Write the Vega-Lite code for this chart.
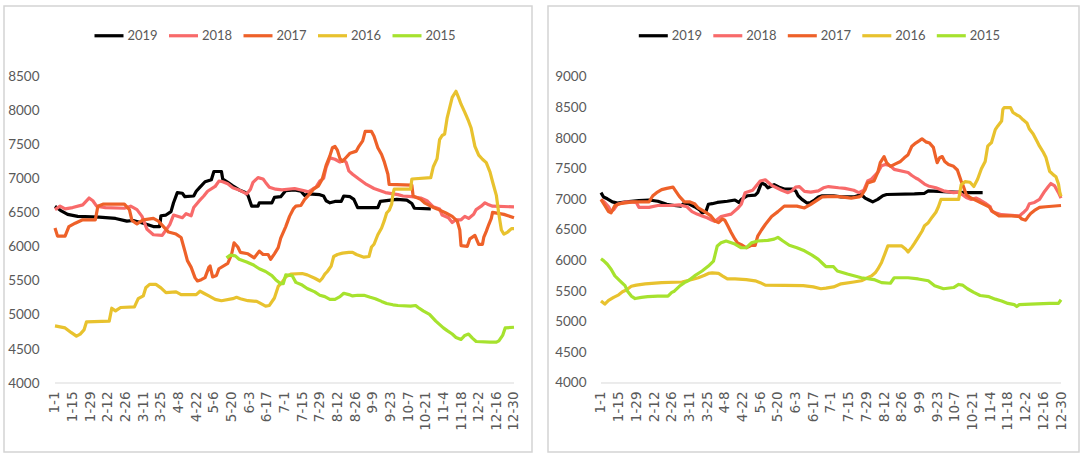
{
"$schema":"https://vega.github.io/schema/vega-lite/v6.json",
"padding":{"left":3,"top":5,"right":2,"bottom":3},
"background":"white",
"spacing":14,
"config":{"view":{"stroke":"#d4d4d4","strokeWidth":1.5},"font":"Lato","axisX":{"labelOverlap":false,"labelBound":false}},
"resolve":{"scale":{"x":"independent","y":"independent","color":"independent","strokeWidth":"independent"},"legend":{"color":"independent"}},
"datasets":{
"left":[
{"series":"2019","date":"2016-01-01","value":6600},{"series":"2019","date":"2016-01-06","value":6530},{"series":"2019","date":"2016-01-11","value":6480},{"series":"2019","date":"2016-01-19","value":6450},{"series":"2019","date":"2016-02-05","value":6440},{"series":"2019","date":"2016-02-18","value":6420},{"series":"2019","date":"2016-02-27","value":6380},{"series":"2019","date":"2016-03-03","value":6390},{"series":"2019","date":"2016-03-11","value":6350},{"series":"2019","date":"2016-03-19","value":6300},{"series":"2019","date":"2016-03-24","value":6300},{"series":"2019","date":"2016-03-25","value":6460},{"series":"2019","date":"2016-03-29","value":6470},{"series":"2019","date":"2016-04-02","value":6520},{"series":"2019","date":"2016-04-04","value":6650},{"series":"2019","date":"2016-04-07","value":6800},{"series":"2019","date":"2016-04-11","value":6790},{"series":"2019","date":"2016-04-13","value":6740},{"series":"2019","date":"2016-04-20","value":6750},{"series":"2019","date":"2016-04-22","value":6820},{"series":"2019","date":"2016-04-25","value":6880},{"series":"2019","date":"2016-04-29","value":6960},{"series":"2019","date":"2016-05-04","value":6990},{"series":"2019","date":"2016-05-06","value":7110},{"series":"2019","date":"2016-05-12","value":7110},{"series":"2019","date":"2016-05-13","value":7000},{"series":"2019","date":"2016-05-17","value":6950},{"series":"2019","date":"2016-05-21","value":6900},{"series":"2019","date":"2016-05-27","value":6830},{"series":"2019","date":"2016-05-31","value":6800},{"series":"2019","date":"2016-06-02","value":6760},{"series":"2019","date":"2016-06-05","value":6600},{"series":"2019","date":"2016-06-10","value":6600},{"series":"2019","date":"2016-06-11","value":6650},{"series":"2019","date":"2016-06-21","value":6650},{"series":"2019","date":"2016-06-23","value":6730},{"series":"2019","date":"2016-06-28","value":6740},{"series":"2019","date":"2016-07-02","value":6830},{"series":"2019","date":"2016-07-09","value":6840},{"series":"2019","date":"2016-07-14","value":6820},{"series":"2019","date":"2016-07-17","value":6760},{"series":"2019","date":"2016-07-20","value":6780},{"series":"2019","date":"2016-07-29","value":6770},{"series":"2019","date":"2016-08-01","value":6750},{"series":"2019","date":"2016-08-03","value":6680},{"series":"2019","date":"2016-08-06","value":6650},{"series":"2019","date":"2016-08-10","value":6670},{"series":"2019","date":"2016-08-15","value":6670},{"series":"2019","date":"2016-08-17","value":6750},{"series":"2019","date":"2016-08-22","value":6740},{"series":"2019","date":"2016-08-25","value":6700},{"series":"2019","date":"2016-08-28","value":6580},{"series":"2019","date":"2016-09-13","value":6580},{"series":"2019","date":"2016-09-15","value":6670},{"series":"2019","date":"2016-09-28","value":6700},{"series":"2019","date":"2016-10-06","value":6690},{"series":"2019","date":"2016-10-10","value":6640},{"series":"2019","date":"2016-10-12","value":6570},{"series":"2019","date":"2016-10-25","value":6560},
{"series":"2018","date":"2016-01-01","value":6550},{"series":"2018","date":"2016-01-05","value":6600},{"series":"2018","date":"2016-01-09","value":6560},{"series":"2018","date":"2016-01-15","value":6580},{"series":"2018","date":"2016-01-23","value":6620},{"series":"2018","date":"2016-01-28","value":6720},{"series":"2018","date":"2016-01-31","value":6680},{"series":"2018","date":"2016-02-03","value":6600},{"series":"2018","date":"2016-02-10","value":6580},{"series":"2018","date":"2016-02-25","value":6570},{"series":"2018","date":"2016-03-01","value":6600},{"series":"2018","date":"2016-03-06","value":6550},{"series":"2018","date":"2016-03-10","value":6450},{"series":"2018","date":"2016-03-14","value":6260},{"series":"2018","date":"2016-03-19","value":6180},{"series":"2018","date":"2016-03-26","value":6170},{"series":"2018","date":"2016-03-29","value":6250},{"series":"2018","date":"2016-04-01","value":6330},{"series":"2018","date":"2016-04-04","value":6470},{"series":"2018","date":"2016-04-11","value":6430},{"series":"2018","date":"2016-04-14","value":6490},{"series":"2018","date":"2016-04-18","value":6460},{"series":"2018","date":"2016-04-20","value":6580},{"series":"2018","date":"2016-04-24","value":6670},{"series":"2018","date":"2016-04-28","value":6750},{"series":"2018","date":"2016-05-01","value":6820},{"series":"2018","date":"2016-05-07","value":6890},{"series":"2018","date":"2016-05-10","value":6970},{"series":"2018","date":"2016-05-13","value":6960},{"series":"2018","date":"2016-05-17","value":6930},{"series":"2018","date":"2016-05-21","value":6870},{"series":"2018","date":"2016-05-27","value":6830},{"series":"2018","date":"2016-06-01","value":6780},{"series":"2018","date":"2016-06-04","value":6850},{"series":"2018","date":"2016-06-06","value":6950},{"series":"2018","date":"2016-06-10","value":7020},{"series":"2018","date":"2016-06-14","value":7000},{"series":"2018","date":"2016-06-16","value":6950},{"series":"2018","date":"2016-06-19","value":6880},{"series":"2018","date":"2016-06-24","value":6850},{"series":"2018","date":"2016-06-29","value":6840},{"series":"2018","date":"2016-07-09","value":6860},{"series":"2018","date":"2016-07-16","value":6830},{"series":"2018","date":"2016-07-20","value":6810},{"series":"2018","date":"2016-07-24","value":6860},{"series":"2018","date":"2016-07-26","value":6880},{"series":"2018","date":"2016-07-29","value":6970},{"series":"2018","date":"2016-08-01","value":7010},{"series":"2018","date":"2016-08-03","value":7170},{"series":"2018","date":"2016-08-06","value":7310},{"series":"2018","date":"2016-08-10","value":7290},{"series":"2018","date":"2016-08-14","value":7250},{"series":"2018","date":"2016-08-17","value":7280},{"series":"2018","date":"2016-08-19","value":7240},{"series":"2018","date":"2016-08-21","value":7120},{"series":"2018","date":"2016-08-24","value":7070},{"series":"2018","date":"2016-08-29","value":7000},{"series":"2018","date":"2016-09-04","value":6920},{"series":"2018","date":"2016-09-10","value":6860},{"series":"2018","date":"2016-09-19","value":6800},{"series":"2018","date":"2016-09-29","value":6770},{"series":"2018","date":"2016-10-03","value":6750},{"series":"2018","date":"2016-10-10","value":6740},{"series":"2018","date":"2016-10-17","value":6720},{"series":"2018","date":"2016-10-22","value":6680},{"series":"2018","date":"2016-10-27","value":6590},{"series":"2018","date":"2016-11-01","value":6560},{"series":"2018","date":"2016-11-03","value":6470},{"series":"2018","date":"2016-11-08","value":6430},{"series":"2018","date":"2016-11-11","value":6360},{"series":"2018","date":"2016-11-14","value":6400},{"series":"2018","date":"2016-11-18","value":6400},{"series":"2018","date":"2016-11-21","value":6450},{"series":"2018","date":"2016-11-24","value":6420},{"series":"2018","date":"2016-11-28","value":6480},{"series":"2018","date":"2016-11-30","value":6550},{"series":"2018","date":"2016-12-04","value":6600},{"series":"2018","date":"2016-12-07","value":6650},{"series":"2018","date":"2016-12-10","value":6620},{"series":"2018","date":"2016-12-13","value":6600},{"series":"2018","date":"2016-12-30","value":6590},
{"series":"2017","date":"2016-01-01","value":6280},{"series":"2017","date":"2016-01-03","value":6160},{"series":"2017","date":"2016-01-09","value":6160},{"series":"2017","date":"2016-01-12","value":6300},{"series":"2017","date":"2016-01-17","value":6350},{"series":"2017","date":"2016-01-23","value":6400},{"series":"2017","date":"2016-02-02","value":6400},{"series":"2017","date":"2016-02-04","value":6600},{"series":"2017","date":"2016-02-08","value":6630},{"series":"2017","date":"2016-02-25","value":6630},{"series":"2017","date":"2016-02-29","value":6550},{"series":"2017","date":"2016-03-02","value":6390},{"series":"2017","date":"2016-03-06","value":6340},{"series":"2017","date":"2016-03-11","value":6400},{"series":"2017","date":"2016-03-19","value":6420},{"series":"2017","date":"2016-03-23","value":6380},{"series":"2017","date":"2016-03-27","value":6300},{"series":"2017","date":"2016-03-31","value":6220},{"series":"2017","date":"2016-04-06","value":6190},{"series":"2017","date":"2016-04-10","value":6140},{"series":"2017","date":"2016-04-13","value":5940},{"series":"2017","date":"2016-04-15","value":5800},{"series":"2017","date":"2016-04-18","value":5700},{"series":"2017","date":"2016-04-21","value":5550},{"series":"2017","date":"2016-04-23","value":5500},{"series":"2017","date":"2016-04-26","value":5520},{"series":"2017","date":"2016-04-29","value":5550},{"series":"2017","date":"2016-05-02","value":5700},{"series":"2017","date":"2016-05-03","value":5720},{"series":"2017","date":"2016-05-05","value":5560},{"series":"2017","date":"2016-05-08","value":5580},{"series":"2017","date":"2016-05-10","value":5680},{"series":"2017","date":"2016-05-17","value":5760},{"series":"2017","date":"2016-05-20","value":5890},{"series":"2017","date":"2016-05-22","value":6060},{"series":"2017","date":"2016-05-25","value":6000},{"series":"2017","date":"2016-05-27","value":5920},{"series":"2017","date":"2016-06-02","value":5900},{"series":"2017","date":"2016-06-07","value":5840},{"series":"2017","date":"2016-06-11","value":5940},{"series":"2017","date":"2016-06-14","value":5890},{"series":"2017","date":"2016-06-18","value":5890},{"series":"2017","date":"2016-06-20","value":5820},{"series":"2017","date":"2016-06-23","value":5900},{"series":"2017","date":"2016-06-26","value":5990},{"series":"2017","date":"2016-06-28","value":6130},{"series":"2017","date":"2016-07-02","value":6300},{"series":"2017","date":"2016-07-05","value":6450},{"series":"2017","date":"2016-07-08","value":6560},{"series":"2017","date":"2016-07-10","value":6600},{"series":"2017","date":"2016-07-14","value":6610},{"series":"2017","date":"2016-07-17","value":6700},{"series":"2017","date":"2016-07-20","value":6760},{"series":"2017","date":"2016-07-24","value":6850},{"series":"2017","date":"2016-07-28","value":6900},{"series":"2017","date":"2016-07-31","value":7000},{"series":"2017","date":"2016-08-03","value":7200},{"series":"2017","date":"2016-08-06","value":7340},{"series":"2017","date":"2016-08-08","value":7460},{"series":"2017","date":"2016-08-10","value":7480},{"series":"2017","date":"2016-08-12","value":7420},{"series":"2017","date":"2016-08-14","value":7300},{"series":"2017","date":"2016-08-16","value":7260},{"series":"2017","date":"2016-08-19","value":7320},{"series":"2017","date":"2016-08-22","value":7380},{"series":"2017","date":"2016-08-27","value":7410},{"series":"2017","date":"2016-08-29","value":7480},{"series":"2017","date":"2016-09-01","value":7560},{"series":"2017","date":"2016-09-03","value":7700},{"series":"2017","date":"2016-09-08","value":7700},{"series":"2017","date":"2016-09-10","value":7630},{"series":"2017","date":"2016-09-13","value":7460},{"series":"2017","date":"2016-09-16","value":7360},{"series":"2017","date":"2016-09-18","value":7260},{"series":"2017","date":"2016-09-21","value":7070},{"series":"2017","date":"2016-09-22","value":6920},{"series":"2017","date":"2016-10-10","value":6910},{"series":"2017","date":"2016-10-11","value":6750},{"series":"2017","date":"2016-10-17","value":6700},{"series":"2017","date":"2016-10-20","value":6650},{"series":"2017","date":"2016-10-25","value":6600},{"series":"2017","date":"2016-10-30","value":6560},{"series":"2017","date":"2016-11-06","value":6500},{"series":"2017","date":"2016-11-11","value":6450},{"series":"2017","date":"2016-11-15","value":6380},{"series":"2017","date":"2016-11-17","value":6250},{"series":"2017","date":"2016-11-18","value":6020},{"series":"2017","date":"2016-11-23","value":6010},{"series":"2017","date":"2016-11-25","value":6120},{"series":"2017","date":"2016-11-29","value":6170},{"series":"2017","date":"2016-12-02","value":6040},{"series":"2017","date":"2016-12-05","value":6040},{"series":"2017","date":"2016-12-06","value":6140},{"series":"2017","date":"2016-12-08","value":6230},{"series":"2017","date":"2016-12-10","value":6330},{"series":"2017","date":"2016-12-12","value":6420},{"series":"2017","date":"2016-12-13","value":6510},{"series":"2017","date":"2016-12-22","value":6480},{"series":"2017","date":"2016-12-30","value":6430},
{"series":"2016","date":"2016-01-01","value":4840},{"series":"2016","date":"2016-01-09","value":4810},{"series":"2016","date":"2016-01-14","value":4740},{"series":"2016","date":"2016-01-18","value":4690},{"series":"2016","date":"2016-01-21","value":4720},{"series":"2016","date":"2016-01-24","value":4780},{"series":"2016","date":"2016-01-26","value":4900},{"series":"2016","date":"2016-02-13","value":4910},{"series":"2016","date":"2016-02-15","value":5100},{"series":"2016","date":"2016-02-18","value":5060},{"series":"2016","date":"2016-02-22","value":5110},{"series":"2016","date":"2016-03-04","value":5120},{"series":"2016","date":"2016-03-07","value":5240},{"series":"2016","date":"2016-03-11","value":5280},{"series":"2016","date":"2016-03-13","value":5400},{"series":"2016","date":"2016-03-16","value":5450},{"series":"2016","date":"2016-03-21","value":5450},{"series":"2016","date":"2016-03-25","value":5400},{"series":"2016","date":"2016-03-29","value":5330},{"series":"2016","date":"2016-04-06","value":5340},{"series":"2016","date":"2016-04-10","value":5300},{"series":"2016","date":"2016-04-22","value":5300},{"series":"2016","date":"2016-04-25","value":5350},{"series":"2016","date":"2016-04-28","value":5320},{"series":"2016","date":"2016-05-02","value":5280},{"series":"2016","date":"2016-05-07","value":5230},{"series":"2016","date":"2016-05-12","value":5210},{"series":"2016","date":"2016-05-21","value":5240},{"series":"2016","date":"2016-05-24","value":5260},{"series":"2016","date":"2016-05-27","value":5240},{"series":"2016","date":"2016-06-02","value":5210},{"series":"2016","date":"2016-06-09","value":5200},{"series":"2016","date":"2016-06-12","value":5170},{"series":"2016","date":"2016-06-16","value":5130},{"series":"2016","date":"2016-06-19","value":5140},{"series":"2016","date":"2016-06-23","value":5250},{"series":"2016","date":"2016-06-26","value":5420},{"series":"2016","date":"2016-06-29","value":5480},{"series":"2016","date":"2016-07-02","value":5560},{"series":"2016","date":"2016-07-06","value":5600},{"series":"2016","date":"2016-07-15","value":5610},{"series":"2016","date":"2016-07-19","value":5590},{"series":"2016","date":"2016-07-25","value":5540},{"series":"2016","date":"2016-07-29","value":5500},{"series":"2016","date":"2016-07-31","value":5540},{"series":"2016","date":"2016-08-02","value":5600},{"series":"2016","date":"2016-08-04","value":5640},{"series":"2016","date":"2016-08-07","value":5720},{"series":"2016","date":"2016-08-09","value":5860},{"series":"2016","date":"2016-08-12","value":5890},{"series":"2016","date":"2016-08-16","value":5910},{"series":"2016","date":"2016-08-21","value":5920},{"series":"2016","date":"2016-08-24","value":5920},{"series":"2016","date":"2016-08-27","value":5890},{"series":"2016","date":"2016-09-02","value":5850},{"series":"2016","date":"2016-09-06","value":5860},{"series":"2016","date":"2016-09-08","value":6000},{"series":"2016","date":"2016-09-10","value":6040},{"series":"2016","date":"2016-09-13","value":6180},{"series":"2016","date":"2016-09-16","value":6280},{"series":"2016","date":"2016-09-18","value":6380},{"series":"2016","date":"2016-09-20","value":6500},{"series":"2016","date":"2016-09-22","value":6540},{"series":"2016","date":"2016-09-24","value":6630},{"series":"2016","date":"2016-09-25","value":6780},{"series":"2016","date":"2016-09-26","value":6850},{"series":"2016","date":"2016-10-09","value":6850},{"series":"2016","date":"2016-10-10","value":7000},{"series":"2016","date":"2016-10-25","value":7020},{"series":"2016","date":"2016-10-27","value":7180},{"series":"2016","date":"2016-10-30","value":7300},{"series":"2016","date":"2016-11-01","value":7580},{"series":"2016","date":"2016-11-03","value":7640},{"series":"2016","date":"2016-11-05","value":7660},{"series":"2016","date":"2016-11-07","value":7900},{"series":"2016","date":"2016-11-09","value":8050},{"series":"2016","date":"2016-11-11","value":8200},{"series":"2016","date":"2016-11-14","value":8290},{"series":"2016","date":"2016-11-16","value":8200},{"series":"2016","date":"2016-11-18","value":8100},{"series":"2016","date":"2016-11-21","value":7980},{"series":"2016","date":"2016-11-24","value":7850},{"series":"2016","date":"2016-11-26","value":7750},{"series":"2016","date":"2016-11-29","value":7480},{"series":"2016","date":"2016-12-02","value":7350},{"series":"2016","date":"2016-12-05","value":7290},{"series":"2016","date":"2016-12-08","value":7240},{"series":"2016","date":"2016-12-11","value":7100},{"series":"2016","date":"2016-12-13","value":6960},{"series":"2016","date":"2016-12-16","value":6760},{"series":"2016","date":"2016-12-18","value":6480},{"series":"2016","date":"2016-12-20","value":6250},{"series":"2016","date":"2016-12-22","value":6190},{"series":"2016","date":"2016-12-25","value":6220},{"series":"2016","date":"2016-12-28","value":6270},{"series":"2016","date":"2016-12-30","value":6270},
{"series":"2015","date":"2016-05-16","value":5840},{"series":"2015","date":"2016-05-19","value":5880},{"series":"2015","date":"2016-05-23","value":5870},{"series":"2015","date":"2016-05-26","value":5820},{"series":"2015","date":"2016-06-01","value":5780},{"series":"2015","date":"2016-06-06","value":5740},{"series":"2015","date":"2016-06-11","value":5680},{"series":"2015","date":"2016-06-16","value":5640},{"series":"2015","date":"2016-06-21","value":5580},{"series":"2015","date":"2016-06-24","value":5520},{"series":"2015","date":"2016-06-28","value":5460},{"series":"2015","date":"2016-06-30","value":5460},{"series":"2015","date":"2016-07-02","value":5590},{"series":"2015","date":"2016-07-07","value":5580},{"series":"2015","date":"2016-07-10","value":5480},{"series":"2015","date":"2016-07-15","value":5440},{"series":"2015","date":"2016-07-19","value":5390},{"series":"2015","date":"2016-07-25","value":5340},{"series":"2015","date":"2016-07-29","value":5290},{"series":"2015","date":"2016-08-02","value":5270},{"series":"2015","date":"2016-08-06","value":5230},{"series":"2015","date":"2016-08-10","value":5230},{"series":"2015","date":"2016-08-14","value":5270},{"series":"2015","date":"2016-08-17","value":5320},{"series":"2015","date":"2016-08-21","value":5300},{"series":"2015","date":"2016-08-24","value":5280},{"series":"2015","date":"2016-08-28","value":5290},{"series":"2015","date":"2016-09-02","value":5290},{"series":"2015","date":"2016-09-07","value":5260},{"series":"2015","date":"2016-09-11","value":5240},{"series":"2015","date":"2016-09-16","value":5200},{"series":"2015","date":"2016-09-20","value":5170},{"series":"2015","date":"2016-09-25","value":5150},{"series":"2015","date":"2016-09-29","value":5140},{"series":"2015","date":"2016-10-09","value":5130},{"series":"2015","date":"2016-10-13","value":5140},{"series":"2015","date":"2016-10-15","value":5110},{"series":"2015","date":"2016-10-19","value":5060},{"series":"2015","date":"2016-10-24","value":5010},{"series":"2015","date":"2016-10-29","value":4910},{"series":"2015","date":"2016-11-04","value":4810},{"series":"2015","date":"2016-11-07","value":4770},{"series":"2015","date":"2016-11-11","value":4720},{"series":"2015","date":"2016-11-14","value":4670},{"series":"2015","date":"2016-11-18","value":4640},{"series":"2015","date":"2016-11-21","value":4700},{"series":"2015","date":"2016-11-24","value":4720},{"series":"2015","date":"2016-11-27","value":4660},{"series":"2015","date":"2016-11-30","value":4610},{"series":"2015","date":"2016-12-11","value":4600},{"series":"2015","date":"2016-12-16","value":4600},{"series":"2015","date":"2016-12-18","value":4620},{"series":"2015","date":"2016-12-21","value":4700},{"series":"2015","date":"2016-12-23","value":4810},{"series":"2015","date":"2016-12-30","value":4820}
],
"right":[
{"series":"2019","date":"2016-01-01","value":7110},{"series":"2019","date":"2016-01-03","value":7040},{"series":"2019","date":"2016-01-06","value":7010},{"series":"2019","date":"2016-01-10","value":6960},{"series":"2019","date":"2016-01-14","value":6940},{"series":"2019","date":"2016-01-21","value":6960},{"series":"2019","date":"2016-01-31","value":6980},{"series":"2019","date":"2016-02-08","value":6990},{"series":"2019","date":"2016-02-15","value":6970},{"series":"2019","date":"2016-02-22","value":6920},{"series":"2019","date":"2016-02-28","value":6900},{"series":"2019","date":"2016-03-04","value":6890},{"series":"2019","date":"2016-03-07","value":6940},{"series":"2019","date":"2016-03-10","value":6930},{"series":"2019","date":"2016-03-15","value":6880},{"series":"2019","date":"2016-03-19","value":6830},{"series":"2019","date":"2016-03-21","value":6780},{"series":"2019","date":"2016-03-24","value":6800},{"series":"2019","date":"2016-03-26","value":6920},{"series":"2019","date":"2016-03-29","value":6930},{"series":"2019","date":"2016-04-02","value":6950},{"series":"2019","date":"2016-04-10","value":6970},{"series":"2019","date":"2016-04-16","value":6990},{"series":"2019","date":"2016-04-19","value":6950},{"series":"2019","date":"2016-04-21","value":7000},{"series":"2019","date":"2016-04-26","value":7060},{"series":"2019","date":"2016-05-02","value":7070},{"series":"2019","date":"2016-05-04","value":7110},{"series":"2019","date":"2016-05-07","value":7270},{"series":"2019","date":"2016-05-10","value":7240},{"series":"2019","date":"2016-05-12","value":7190},{"series":"2019","date":"2016-05-17","value":7240},{"series":"2019","date":"2016-05-21","value":7200},{"series":"2019","date":"2016-05-25","value":7170},{"series":"2019","date":"2016-05-31","value":7170},{"series":"2019","date":"2016-06-03","value":7140},{"series":"2019","date":"2016-06-05","value":7060},{"series":"2019","date":"2016-06-08","value":7000},{"series":"2019","date":"2016-06-12","value":6940},{"series":"2019","date":"2016-06-15","value":6950},{"series":"2019","date":"2016-06-18","value":6990},{"series":"2019","date":"2016-06-21","value":7040},{"series":"2019","date":"2016-06-24","value":7060},{"series":"2019","date":"2016-07-03","value":7060},{"series":"2019","date":"2016-07-09","value":7040},{"series":"2019","date":"2016-07-19","value":7040},{"series":"2019","date":"2016-07-25","value":7080},{"series":"2019","date":"2016-07-28","value":7020},{"series":"2019","date":"2016-07-31","value":6990},{"series":"2019","date":"2016-08-03","value":6960},{"series":"2019","date":"2016-08-07","value":7000},{"series":"2019","date":"2016-08-11","value":7060},{"series":"2019","date":"2016-08-14","value":7080},{"series":"2019","date":"2016-09-05","value":7090},{"series":"2019","date":"2016-09-13","value":7100},{"series":"2019","date":"2016-09-16","value":7140},{"series":"2019","date":"2016-09-24","value":7130},{"series":"2019","date":"2016-10-06","value":7120},{"series":"2019","date":"2016-10-17","value":7110},{"series":"2019","date":"2016-10-29","value":7110},
{"series":"2018","date":"2016-01-01","value":7000},{"series":"2018","date":"2016-01-04","value":6950},{"series":"2018","date":"2016-01-07","value":6880},{"series":"2018","date":"2016-01-09","value":6800},{"series":"2018","date":"2016-01-11","value":6830},{"series":"2018","date":"2016-01-14","value":6920},{"series":"2018","date":"2016-01-21","value":6960},{"series":"2018","date":"2016-01-29","value":6950},{"series":"2018","date":"2016-01-31","value":6870},{"series":"2018","date":"2016-02-08","value":6870},{"series":"2018","date":"2016-02-15","value":6900},{"series":"2018","date":"2016-02-25","value":6900},{"series":"2018","date":"2016-03-03","value":6910},{"series":"2018","date":"2016-03-09","value":6880},{"series":"2018","date":"2016-03-13","value":6800},{"series":"2018","date":"2016-03-17","value":6760},{"series":"2018","date":"2016-03-21","value":6730},{"series":"2018","date":"2016-03-25","value":6700},{"series":"2018","date":"2016-03-29","value":6660},{"series":"2018","date":"2016-03-31","value":6640},{"series":"2018","date":"2016-04-05","value":6720},{"series":"2018","date":"2016-04-13","value":6760},{"series":"2018","date":"2016-04-18","value":6850},{"series":"2018","date":"2016-04-21","value":6920},{"series":"2018","date":"2016-04-24","value":7110},{"series":"2018","date":"2016-04-30","value":7150},{"series":"2018","date":"2016-05-06","value":7300},{"series":"2018","date":"2016-05-10","value":7320},{"series":"2018","date":"2016-05-15","value":7230},{"series":"2018","date":"2016-05-23","value":7150},{"series":"2018","date":"2016-05-28","value":7110},{"series":"2018","date":"2016-05-31","value":7140},{"series":"2018","date":"2016-06-03","value":7200},{"series":"2018","date":"2016-06-06","value":7210},{"series":"2018","date":"2016-06-10","value":7130},{"series":"2018","date":"2016-06-15","value":7120},{"series":"2018","date":"2016-06-21","value":7140},{"series":"2018","date":"2016-06-25","value":7190},{"series":"2018","date":"2016-06-29","value":7210},{"series":"2018","date":"2016-07-07","value":7190},{"series":"2018","date":"2016-07-12","value":7180},{"series":"2018","date":"2016-07-19","value":7150},{"series":"2018","date":"2016-07-23","value":7110},{"series":"2018","date":"2016-07-27","value":7150},{"series":"2018","date":"2016-07-30","value":7300},{"series":"2018","date":"2016-08-02","value":7330},{"series":"2018","date":"2016-08-07","value":7440},{"series":"2018","date":"2016-08-10","value":7550},{"series":"2018","date":"2016-08-13","value":7570},{"series":"2018","date":"2016-08-17","value":7550},{"series":"2018","date":"2016-08-20","value":7490},{"series":"2018","date":"2016-08-31","value":7440},{"series":"2018","date":"2016-09-03","value":7390},{"series":"2018","date":"2016-09-06","value":7350},{"series":"2018","date":"2016-09-08","value":7330},{"series":"2018","date":"2016-09-13","value":7250},{"series":"2018","date":"2016-09-16","value":7220},{"series":"2018","date":"2016-09-22","value":7190},{"series":"2018","date":"2016-09-28","value":7140},{"series":"2018","date":"2016-10-06","value":7110},{"series":"2018","date":"2016-10-10","value":7120},{"series":"2018","date":"2016-10-16","value":7030},{"series":"2018","date":"2016-10-20","value":7000},{"series":"2018","date":"2016-10-24","value":7020},{"series":"2018","date":"2016-10-27","value":6990},{"series":"2018","date":"2016-10-31","value":6940},{"series":"2018","date":"2016-11-04","value":6880},{"series":"2018","date":"2016-11-05","value":6810},{"series":"2018","date":"2016-11-08","value":6780},{"series":"2018","date":"2016-11-13","value":6750},{"series":"2018","date":"2016-11-21","value":6740},{"series":"2018","date":"2016-11-27","value":6730},{"series":"2018","date":"2016-11-30","value":6780},{"series":"2018","date":"2016-12-03","value":6840},{"series":"2018","date":"2016-12-05","value":6930},{"series":"2018","date":"2016-12-09","value":6950},{"series":"2018","date":"2016-12-13","value":7000},{"series":"2018","date":"2016-12-17","value":7130},{"series":"2018","date":"2016-12-20","value":7210},{"series":"2018","date":"2016-12-22","value":7260},{"series":"2018","date":"2016-12-25","value":7220},{"series":"2018","date":"2016-12-28","value":7110},{"series":"2018","date":"2016-12-30","value":7020},
{"series":"2017","date":"2016-01-01","value":7000},{"series":"2017","date":"2016-01-04","value":6900},{"series":"2017","date":"2016-01-07","value":6800},{"series":"2017","date":"2016-01-09","value":6780},{"series":"2017","date":"2016-01-12","value":6900},{"series":"2017","date":"2016-01-16","value":6930},{"series":"2017","date":"2016-01-26","value":6960},{"series":"2017","date":"2016-02-08","value":6960},{"series":"2017","date":"2016-02-11","value":7060},{"series":"2017","date":"2016-02-14","value":7110},{"series":"2017","date":"2016-02-18","value":7160},{"series":"2017","date":"2016-02-22","value":7180},{"series":"2017","date":"2016-02-27","value":7200},{"series":"2017","date":"2016-02-29","value":7140},{"series":"2017","date":"2016-03-03","value":7050},{"series":"2017","date":"2016-03-07","value":6960},{"series":"2017","date":"2016-03-11","value":6960},{"series":"2017","date":"2016-03-15","value":6930},{"series":"2017","date":"2016-03-18","value":6860},{"series":"2017","date":"2016-03-23","value":6800},{"series":"2017","date":"2016-03-28","value":6730},{"series":"2017","date":"2016-03-31","value":6650},{"series":"2017","date":"2016-04-03","value":6620},{"series":"2017","date":"2016-04-06","value":6680},{"series":"2017","date":"2016-04-08","value":6660},{"series":"2017","date":"2016-04-10","value":6580},{"series":"2017","date":"2016-04-13","value":6460},{"series":"2017","date":"2016-04-16","value":6350},{"series":"2017","date":"2016-04-18","value":6290},{"series":"2017","date":"2016-04-21","value":6260},{"series":"2017","date":"2016-04-25","value":6210},{"series":"2017","date":"2016-04-29","value":6250},{"series":"2017","date":"2016-05-02","value":6250},{"series":"2017","date":"2016-05-04","value":6400},{"series":"2017","date":"2016-05-07","value":6500},{"series":"2017","date":"2016-05-10","value":6590},{"series":"2017","date":"2016-05-15","value":6720},{"series":"2017","date":"2016-05-20","value":6800},{"series":"2017","date":"2016-05-25","value":6890},{"series":"2017","date":"2016-06-04","value":6890},{"series":"2017","date":"2016-06-10","value":6860},{"series":"2017","date":"2016-06-15","value":6920},{"series":"2017","date":"2016-06-21","value":7000},{"series":"2017","date":"2016-06-24","value":7040},{"series":"2017","date":"2016-07-03","value":7050},{"series":"2017","date":"2016-07-09","value":7040},{"series":"2017","date":"2016-07-17","value":7020},{"series":"2017","date":"2016-07-23","value":7040},{"series":"2017","date":"2016-07-25","value":7060},{"series":"2017","date":"2016-07-28","value":7160},{"series":"2017","date":"2016-07-30","value":7270},{"series":"2017","date":"2016-08-04","value":7300},{"series":"2017","date":"2016-08-07","value":7440},{"series":"2017","date":"2016-08-09","value":7600},{"series":"2017","date":"2016-08-12","value":7700},{"series":"2017","date":"2016-08-14","value":7600},{"series":"2017","date":"2016-08-17","value":7540},{"series":"2017","date":"2016-08-21","value":7580},{"series":"2017","date":"2016-08-25","value":7620},{"series":"2017","date":"2016-08-28","value":7680},{"series":"2017","date":"2016-08-31","value":7730},{"series":"2017","date":"2016-09-03","value":7870},{"series":"2017","date":"2016-09-06","value":7920},{"series":"2017","date":"2016-09-09","value":7960},{"series":"2017","date":"2016-09-11","value":7990},{"series":"2017","date":"2016-09-14","value":7940},{"series":"2017","date":"2016-09-17","value":7920},{"series":"2017","date":"2016-09-20","value":7850},{"series":"2017","date":"2016-09-22","value":7680},{"series":"2017","date":"2016-09-23","value":7600},{"series":"2017","date":"2016-09-25","value":7680},{"series":"2017","date":"2016-09-27","value":7700},{"series":"2017","date":"2016-09-29","value":7620},{"series":"2017","date":"2016-10-02","value":7570},{"series":"2017","date":"2016-10-06","value":7540},{"series":"2017","date":"2016-10-09","value":7480},{"series":"2017","date":"2016-10-12","value":7300},{"series":"2017","date":"2016-10-14","value":7200},{"series":"2017","date":"2016-10-16","value":7080},{"series":"2017","date":"2016-10-19","value":7030},{"series":"2017","date":"2016-10-22","value":7000},{"series":"2017","date":"2016-10-26","value":6960},{"series":"2017","date":"2016-10-30","value":6920},{"series":"2017","date":"2016-11-03","value":6880},{"series":"2017","date":"2016-11-06","value":6800},{"series":"2017","date":"2016-11-09","value":6760},{"series":"2017","date":"2016-11-11","value":6730},{"series":"2017","date":"2016-11-21","value":6730},{"series":"2017","date":"2016-11-27","value":6720},{"series":"2017","date":"2016-11-29","value":6680},{"series":"2017","date":"2016-12-02","value":6660},{"series":"2017","date":"2016-12-04","value":6720},{"series":"2017","date":"2016-12-06","value":6770},{"series":"2017","date":"2016-12-09","value":6820},{"series":"2017","date":"2016-12-13","value":6870},{"series":"2017","date":"2016-12-18","value":6880},{"series":"2017","date":"2016-12-30","value":6900},
{"series":"2016","date":"2016-01-01","value":5340},{"series":"2016","date":"2016-01-04","value":5290},{"series":"2016","date":"2016-01-07","value":5350},{"series":"2016","date":"2016-01-11","value":5400},{"series":"2016","date":"2016-01-15","value":5440},{"series":"2016","date":"2016-01-18","value":5490},{"series":"2016","date":"2016-01-21","value":5520},{"series":"2016","date":"2016-01-25","value":5580},{"series":"2016","date":"2016-01-29","value":5600},{"series":"2016","date":"2016-02-05","value":5620},{"series":"2016","date":"2016-02-18","value":5640},{"series":"2016","date":"2016-03-05","value":5650},{"series":"2016","date":"2016-03-13","value":5690},{"series":"2016","date":"2016-03-18","value":5720},{"series":"2016","date":"2016-03-23","value":5760},{"series":"2016","date":"2016-03-26","value":5790},{"series":"2016","date":"2016-03-29","value":5800},{"series":"2016","date":"2016-04-03","value":5790},{"series":"2016","date":"2016-04-06","value":5750},{"series":"2016","date":"2016-04-10","value":5700},{"series":"2016","date":"2016-04-16","value":5700},{"series":"2016","date":"2016-04-25","value":5690},{"series":"2016","date":"2016-05-02","value":5670},{"series":"2016","date":"2016-05-06","value":5640},{"series":"2016","date":"2016-05-10","value":5600},{"series":"2016","date":"2016-06-09","value":5590},{"series":"2016","date":"2016-06-17","value":5570},{"series":"2016","date":"2016-06-23","value":5540},{"series":"2016","date":"2016-06-27","value":5550},{"series":"2016","date":"2016-07-03","value":5570},{"series":"2016","date":"2016-07-09","value":5620},{"series":"2016","date":"2016-07-19","value":5650},{"series":"2016","date":"2016-07-25","value":5670},{"series":"2016","date":"2016-07-30","value":5720},{"series":"2016","date":"2016-08-02","value":5750},{"series":"2016","date":"2016-08-05","value":5800},{"series":"2016","date":"2016-08-07","value":5860},{"series":"2016","date":"2016-08-10","value":5970},{"series":"2016","date":"2016-08-13","value":6130},{"series":"2016","date":"2016-08-15","value":6240},{"series":"2016","date":"2016-08-26","value":6240},{"series":"2016","date":"2016-08-29","value":6190},{"series":"2016","date":"2016-08-31","value":6140},{"series":"2016","date":"2016-09-03","value":6220},{"series":"2016","date":"2016-09-05","value":6280},{"series":"2016","date":"2016-09-08","value":6380},{"series":"2016","date":"2016-09-11","value":6480},{"series":"2016","date":"2016-09-13","value":6570},{"series":"2016","date":"2016-09-16","value":6620},{"series":"2016","date":"2016-09-19","value":6710},{"series":"2016","date":"2016-09-22","value":6790},{"series":"2016","date":"2016-09-24","value":6880},{"series":"2016","date":"2016-09-26","value":7000},{"series":"2016","date":"2016-10-10","value":7000},{"series":"2016","date":"2016-10-12","value":7240},{"series":"2016","date":"2016-10-15","value":7290},{"series":"2016","date":"2016-10-19","value":7280},{"series":"2016","date":"2016-10-22","value":7210},{"series":"2016","date":"2016-10-25","value":7330},{"series":"2016","date":"2016-10-28","value":7500},{"series":"2016","date":"2016-10-31","value":7620},{"series":"2016","date":"2016-11-02","value":7870},{"series":"2016","date":"2016-11-05","value":7930},{"series":"2016","date":"2016-11-08","value":8140},{"series":"2016","date":"2016-11-10","value":8200},{"series":"2016","date":"2016-11-13","value":8280},{"series":"2016","date":"2016-11-14","value":8470},{"series":"2016","date":"2016-11-15","value":8500},{"series":"2016","date":"2016-11-20","value":8500},{"series":"2016","date":"2016-11-22","value":8420},{"series":"2016","date":"2016-11-25","value":8380},{"series":"2016","date":"2016-11-27","value":8360},{"series":"2016","date":"2016-11-30","value":8300},{"series":"2016","date":"2016-12-03","value":8250},{"series":"2016","date":"2016-12-05","value":8150},{"series":"2016","date":"2016-12-08","value":8070},{"series":"2016","date":"2016-12-11","value":7950},{"series":"2016","date":"2016-12-13","value":7870},{"series":"2016","date":"2016-12-16","value":7770},{"series":"2016","date":"2016-12-18","value":7690},{"series":"2016","date":"2016-12-21","value":7460},{"series":"2016","date":"2016-12-24","value":7400},{"series":"2016","date":"2016-12-26","value":7370},{"series":"2016","date":"2016-12-28","value":7250},{"series":"2016","date":"2016-12-29","value":7120},{"series":"2016","date":"2016-12-30","value":7050},
{"series":"2015","date":"2016-01-01","value":6030},{"series":"2015","date":"2016-01-03","value":6000},{"series":"2015","date":"2016-01-06","value":5940},{"series":"2015","date":"2016-01-09","value":5860},{"series":"2015","date":"2016-01-12","value":5750},{"series":"2015","date":"2016-01-16","value":5670},{"series":"2015","date":"2016-01-20","value":5590},{"series":"2015","date":"2016-01-22","value":5500},{"series":"2015","date":"2016-01-25","value":5420},{"series":"2015","date":"2016-01-28","value":5380},{"series":"2015","date":"2016-02-02","value":5400},{"series":"2015","date":"2016-02-07","value":5410},{"series":"2015","date":"2016-02-15","value":5420},{"series":"2015","date":"2016-02-23","value":5420},{"series":"2015","date":"2016-02-26","value":5480},{"series":"2015","date":"2016-02-28","value":5500},{"series":"2015","date":"2016-03-03","value":5580},{"series":"2015","date":"2016-03-07","value":5640},{"series":"2015","date":"2016-03-10","value":5670},{"series":"2015","date":"2016-03-15","value":5750},{"series":"2015","date":"2016-03-21","value":5830},{"series":"2015","date":"2016-03-26","value":5910},{"series":"2015","date":"2016-03-30","value":5990},{"series":"2015","date":"2016-03-31","value":6075},{"series":"2015","date":"2016-04-02","value":6240},{"series":"2015","date":"2016-04-05","value":6290},{"series":"2015","date":"2016-04-09","value":6320},{"series":"2015","date":"2016-04-16","value":6270},{"series":"2015","date":"2016-04-21","value":6210},{"series":"2015","date":"2016-04-25","value":6210},{"series":"2015","date":"2016-04-29","value":6290},{"series":"2015","date":"2016-05-04","value":6320},{"series":"2015","date":"2016-05-12","value":6330},{"series":"2015","date":"2016-05-17","value":6350},{"series":"2015","date":"2016-05-20","value":6380},{"series":"2015","date":"2016-05-24","value":6320},{"series":"2015","date":"2016-05-29","value":6250},{"series":"2015","date":"2016-06-04","value":6210},{"series":"2015","date":"2016-06-10","value":6160},{"series":"2015","date":"2016-06-16","value":6090},{"series":"2015","date":"2016-06-21","value":6020},{"series":"2015","date":"2016-06-25","value":5940},{"series":"2015","date":"2016-06-27","value":5900},{"series":"2015","date":"2016-07-03","value":5900},{"series":"2015","date":"2016-07-06","value":5830},{"series":"2015","date":"2016-07-14","value":5780},{"series":"2015","date":"2016-07-25","value":5720},{"series":"2015","date":"2016-08-04","value":5690},{"series":"2015","date":"2016-08-10","value":5640},{"series":"2015","date":"2016-08-17","value":5630},{"series":"2015","date":"2016-08-20","value":5720},{"series":"2015","date":"2016-08-31","value":5720},{"series":"2015","date":"2016-09-08","value":5700},{"series":"2015","date":"2016-09-16","value":5670},{"series":"2015","date":"2016-09-21","value":5590},{"series":"2015","date":"2016-09-28","value":5540},{"series":"2015","date":"2016-10-06","value":5560},{"series":"2015","date":"2016-10-10","value":5610},{"series":"2015","date":"2016-10-13","value":5600},{"series":"2015","date":"2016-10-17","value":5540},{"series":"2015","date":"2016-10-22","value":5480},{"series":"2015","date":"2016-10-27","value":5430},{"series":"2015","date":"2016-11-03","value":5410},{"series":"2015","date":"2016-11-08","value":5370},{"series":"2015","date":"2016-11-13","value":5340},{"series":"2015","date":"2016-11-18","value":5300},{"series":"2015","date":"2016-11-23","value":5280},{"series":"2015","date":"2016-11-25","value":5250},{"series":"2015","date":"2016-11-27","value":5280},{"series":"2015","date":"2016-12-06","value":5290},{"series":"2015","date":"2016-12-21","value":5300},{"series":"2015","date":"2016-12-28","value":5300},{"series":"2015","date":"2016-12-30","value":5360}
]},
"hconcat":[
{"width":528,"height":446,"data":{"name":"left"},
"layer":[
{"data":{"values":[{}]},"mark":{"type":"rule","color":"#d9d9d9","strokeWidth":1},
"encoding":{"x":{"datum":{"year":2016,"month":1,"date":1,"utc":true},"type":"temporal"},"x2":{"datum":{"year":2016,"month":12,"date":30,"utc":true}},"y":{"datum":4000,"type":"quantitative"}}},
{"mark":{"type":"line","strokeJoin":"round"},
"encoding":{
"x":{"field":"date","type":"temporal","scale":{"type":"utc","nice":false,"domain":[{"year":2015,"month":11,"date":21,"hours":13,"minutes":20,"utc":true},{"year":2017,"month":1,"date":13,"hours":6,"minutes":36,"utc":true}]},
"axis":{"title":null,"format":"%-m-%-d","labelAngle":270,"labelPadding":8,"offset":-69,"labelFont":"DejaVu Sans","labelFontSize":13.5,"labelColor":"#595959","domain":false,"ticks":false,"tickSize":0,"grid":false,"labelOverlap":false,"labelBound":false,"labelFlush":false,"tickCount":40,
"values":[{"year":2016,"month":1,"date":1,"utc":true},{"year":2016,"month":1,"date":15,"utc":true},{"year":2016,"month":1,"date":29,"utc":true},{"year":2016,"month":2,"date":12,"utc":true},{"year":2016,"month":2,"date":26,"utc":true},{"year":2016,"month":3,"date":11,"utc":true},{"year":2016,"month":3,"date":25,"utc":true},{"year":2016,"month":4,"date":8,"utc":true},{"year":2016,"month":4,"date":22,"utc":true},{"year":2016,"month":5,"date":6,"utc":true},{"year":2016,"month":5,"date":20,"utc":true},{"year":2016,"month":6,"date":3,"utc":true},{"year":2016,"month":6,"date":17,"utc":true},{"year":2016,"month":7,"date":1,"utc":true},{"year":2016,"month":7,"date":15,"utc":true},{"year":2016,"month":7,"date":29,"utc":true},{"year":2016,"month":8,"date":12,"utc":true},{"year":2016,"month":8,"date":26,"utc":true},{"year":2016,"month":9,"date":9,"utc":true},{"year":2016,"month":9,"date":23,"utc":true},{"year":2016,"month":10,"date":7,"utc":true},{"year":2016,"month":10,"date":21,"utc":true},{"year":2016,"month":11,"date":4,"utc":true},{"year":2016,"month":11,"date":18,"utc":true},{"year":2016,"month":12,"date":2,"utc":true},{"year":2016,"month":12,"date":16,"utc":true},{"year":2016,"month":12,"date":30,"utc":true}]}},
"y":{"field":"value","type":"quantitative","scale":{"domain":[2985.3,9544.1],"nice":false,"zero":false},
"axis":{"title":null,"values":[4000,4500,5000,5500,6000,6500,7000,7500,8000,8500],"tickCount":20,"format":"d","offset":-40,"labelPadding":5,"domain":false,"ticks":false,"tickSize":0,"grid":false,"labelFontSize":13.5,"labelColor":"#595959","labelFlush":false}},
"color":{"field":"series","type":"nominal","scale":{"domain":["2019","2018","2017","2016","2015"],"range":["#000000","#f86a6a","#ee6129","#e8c22e","#a6e22e"]},
"legend":{"orient":"none","legendX":88.5,"legendY":13,"direction":"horizontal","title":null,"symbolType":"stroke","symbolSize":841,"symbolStrokeWidth":3,"labelFontSize":13,"labelColor":"#595959","labelOffset":2,"columnPadding":3.5,"padding":0,"labelLimit":0}},
"strokeWidth":{"field":"series","type":"nominal","scale":{"domain":["2019","2018","2017","2016","2015"],"range":[3.2,3.2,2.2,2.2,2.2]},"legend":null}
}}
]},
{"width":531,"height":446,"data":{"name":"right"},
"layer":[
{"data":{"values":[{}]},"mark":{"type":"rule","color":"#d9d9d9","strokeWidth":1},
"encoding":{"x":{"datum":{"year":2016,"month":1,"date":1,"utc":true},"type":"temporal"},"x2":{"datum":{"year":2016,"month":12,"date":30,"utc":true}},"y":{"datum":4000,"type":"quantitative"}}},
{"mark":{"type":"line","strokeJoin":"round"},
"encoding":{
"x":{"field":"date","type":"temporal","scale":{"type":"utc","nice":false,"domain":[{"year":2015,"month":11,"date":20,"hours":1,"minutes":30,"utc":true},{"year":2017,"month":1,"date":13,"hours":5,"minutes":50,"utc":true}]},
"axis":{"title":null,"format":"%-m-%-d","labelAngle":270,"labelPadding":8,"offset":-69,"labelFont":"DejaVu Sans","labelFontSize":13.5,"labelColor":"#595959","domain":false,"ticks":false,"tickSize":0,"grid":false,"labelOverlap":false,"labelBound":false,"labelFlush":false,"tickCount":40,
"values":[{"year":2016,"month":1,"date":1,"utc":true},{"year":2016,"month":1,"date":15,"utc":true},{"year":2016,"month":1,"date":29,"utc":true},{"year":2016,"month":2,"date":12,"utc":true},{"year":2016,"month":2,"date":26,"utc":true},{"year":2016,"month":3,"date":11,"utc":true},{"year":2016,"month":3,"date":25,"utc":true},{"year":2016,"month":4,"date":8,"utc":true},{"year":2016,"month":4,"date":22,"utc":true},{"year":2016,"month":5,"date":6,"utc":true},{"year":2016,"month":5,"date":20,"utc":true},{"year":2016,"month":6,"date":3,"utc":true},{"year":2016,"month":6,"date":17,"utc":true},{"year":2016,"month":7,"date":1,"utc":true},{"year":2016,"month":7,"date":15,"utc":true},{"year":2016,"month":7,"date":29,"utc":true},{"year":2016,"month":8,"date":12,"utc":true},{"year":2016,"month":8,"date":26,"utc":true},{"year":2016,"month":9,"date":9,"utc":true},{"year":2016,"month":9,"date":23,"utc":true},{"year":2016,"month":10,"date":7,"utc":true},{"year":2016,"month":10,"date":21,"utc":true},{"year":2016,"month":11,"date":4,"utc":true},{"year":2016,"month":11,"date":18,"utc":true},{"year":2016,"month":12,"date":2,"utc":true},{"year":2016,"month":12,"date":16,"utc":true},{"year":2016,"month":12,"date":30,"utc":true}]}},
"y":{"field":"value","type":"quantitative","scale":{"domain":[2872.5,10160.1],"nice":false,"zero":false},
"axis":{"title":null,"values":[4000,4500,5000,5500,6000,6500,7000,7500,8000,8500,9000],"tickCount":20,"format":"d","offset":-43,"labelPadding":5,"domain":false,"ticks":false,"tickSize":0,"grid":false,"labelFontSize":13.5,"labelColor":"#595959","labelFlush":false}},
"color":{"field":"series","type":"nominal","scale":{"domain":["2019","2018","2017","2016","2015"],"range":["#000000","#f86a6a","#ee6129","#e8c22e","#a6e22e"]},
"legend":{"orient":"none","legendX":88.8,"legendY":13,"direction":"horizontal","title":null,"symbolType":"stroke","symbolSize":841,"symbolStrokeWidth":3,"labelFontSize":13,"labelColor":"#595959","labelOffset":2,"columnPadding":3.5,"padding":0,"labelLimit":0}},
"strokeWidth":{"field":"series","type":"nominal","scale":{"domain":["2019","2018","2017","2016","2015"],"range":[3.2,3.2,2.2,2.2,2.2]},"legend":null}
}}
]}
]
}
